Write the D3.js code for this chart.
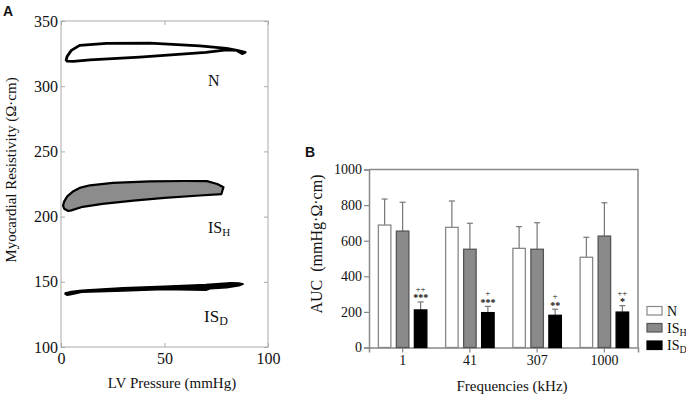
<!DOCTYPE html>
<html>
<head>
<meta charset="utf-8">
<script src="https://cdn.jsdelivr.net/npm/d3@7"></script>
<style>
  body { margin: 0; background: #fff; }
  text { font-family: "Liberation Serif", "Times New Roman", serif; fill: #111; }
</style>
</head>
<body>
<div id="chart"></div>
<script>
// panel A: pressure / resistivity loops, [LV pressure, resistivity]
const pressureTicks = [0, 50, 100];
const resistTicks = [100, 150, 200, 250, 300, 350];

const loopN = [[2.5, 320], [3, 323], [5, 327.5], [9, 331.3], [22, 332.8], [43, 333], [67, 331],
  [80, 329], [85, 327.5], [89, 326], [87.5, 325], [85, 327.4], [80, 327.9], [70, 326],
  [38, 322.3], [14, 320.2], [6, 319], [3, 319.2], [2.5, 320]];

const loopISH = [[3.5, 204.3], [1.5, 206], [1, 208.5], [1.5, 211.5], [3, 215.5], [6, 219.5], [9, 222],
  [14, 224], [25, 225.8], [43, 227], [60, 227.3], [70.5, 227.2], [75.5, 225], [78.5, 222.5],
  [78, 220], [77.5, 217.3], [67, 216.2], [50, 214.3], [35, 212.3], [20, 209.8], [10.5, 207.5], [5, 204.8]];

const loopISD = [[2, 141.5], [5, 142.5], [10, 143.6], [30, 145.5], [50, 146.6], [70, 148], [82, 149.3],
  [86, 149], [88, 148.3], [86, 147], [80, 145.5], [72, 144.6], [70, 143.5], [50, 144], [30, 143],
  [10, 142], [5, 140.3], [3, 139.6], [2, 140.5]];

// panel B: AUC per frequency
const freqs = ["1", "41", "307", "1000"];
const aucTicks = [0, 200, 400, 600, 800, 1000];
const meanN = [688, 675, 557, 507];
const sdN = [146, 148, 122, 112];
const meanISH = [654, 552, 552, 626];
const sdISH = [162, 146, 149, 187];
const meanISD = [211, 196, 181, 199];
const sdISD = [45, 35, 34, 36];
const plusMarks = ["++", "+", "+", "++"];
const starMarks = ["***", "***", "**", "*"];

const W = 686, H = 394;
const serif = "'Liberation Serif', 'Times New Roman', serif";
const svg = d3.select("#chart").append("svg")
  .attr("width", W).attr("height", H);
svg.append("rect").attr("width", W).attr("height", H).attr("fill", "#fff");

// ---------- panel A ----------
const xA = d3.scaleLinear().domain([0, 100]).range([61, 268]);
const yA = d3.scaleLinear().domain([100, 350]).range([347, 21]);

const gA = svg.append("g");
gA.append("rect")
  .attr("x", xA(0)).attr("y", yA(350))
  .attr("width", xA(100) - xA(0)).attr("height", yA(100) - yA(350))
  .attr("fill", "none").attr("stroke", "#aaa").attr("stroke-width", 1);

function styleAxis(g, col, size) {
  g.attr("font-family", serif).attr("font-size", size);
  g.select(".domain").remove();
  g.selectAll(".tick line").attr("stroke", col);
  g.selectAll(".tick text").attr("fill", "#111");
}

gA.append("g").attr("transform", `translate(0,${yA(100)})`)
  .call(d3.axisBottom(xA).tickValues(pressureTicks).tickSize(-4).tickPadding(6))
  .call(g => styleAxis(g, "#aaa", 16));
gA.append("g").attr("transform", `translate(${xA(0)},0)`)
  .call(d3.axisLeft(yA).tickValues(resistTicks).tickSize(-4).tickPadding(3))
  .call(g => styleAxis(g, "#aaa", 16));
gA.append("g").attr("transform", `translate(0,${yA(350)})`)
  .call(d3.axisTop(xA).tickValues(pressureTicks).tickSize(-4).tickFormat(""))
  .call(g => styleAxis(g, "#aaa", 16));
gA.append("g").attr("transform", `translate(${xA(100)},0)`)
  .call(d3.axisRight(yA).tickValues(resistTicks).tickSize(-4).tickFormat(""))
  .call(g => styleAxis(g, "#aaa", 16));

const lineA = d3.line().x(d => xA(d[0])).y(d => yA(d[1]));

gA.append("path").datum(loopN)
  .attr("d", lineA).attr("fill", "none")
  .attr("stroke", "#000").attr("stroke-width", 2.8)
  .attr("stroke-linejoin", "round").attr("stroke-linecap", "round");
gA.append("path").datum(loopISH)
  .attr("d", d => lineA(d) + "Z").attr("fill", "#8c8c8c")
  .attr("stroke", "#000").attr("stroke-width", 2.2).attr("stroke-linejoin", "round");
gA.append("path").datum(loopISD)
  .attr("d", d => lineA(d) + "Z").attr("fill", "#000")
  .attr("stroke", "#000").attr("stroke-width", 1.5).attr("stroke-linejoin", "round");

gA.append("text").attr("x", 208).attr("y", 86).style("font-size", "16px").text("N");
const tH = gA.append("text").attr("x", 208).attr("y", 233).style("font-size", "16px");
tH.append("tspan").text("IS");
tH.append("tspan").attr("dy", 3).style("font-size", "11px").text("H");
const tD = gA.append("text").attr("x", 204).attr("y", 322).style("font-size", "17px");
tD.append("tspan").text("IS");
tD.append("tspan").attr("dy", 3).style("font-size", "12px").text("D");

gA.append("text").attr("x", 172).attr("y", 388).attr("text-anchor", "middle")
  .style("font-size", "15px").text("LV Pressure (mmHg)");
gA.append("text").attr("transform", "translate(16,170) rotate(-90)").attr("text-anchor", "middle")
  .style("font-size", "15px").text("Myocardial Resistivity (\u03A9\u00B7cm)");

svg.append("text").attr("x", 3).attr("y", 16)
  .style("font-family", "'Liberation Sans', Arial, sans-serif")
  .style("font-weight", "bold").style("font-size", "14px").text("A");

// ---------- panel B ----------
const xB = d3.scaleBand().domain(freqs).range([369, 638]);
const yB = d3.scaleLinear().domain([0, 1000]).range([347.5, 169.5]);
const axisCol = "#888";

const gB = svg.append("g");
// frame top/right
gB.append("path")
  .attr("d", `M${xB.range()[0]},${yB(1000)}H${xB.range()[1]}V${yB(0)}`)
  .attr("fill", "none").attr("stroke", axisCol).attr("stroke-width", 1.5);

gB.append("g").attr("transform", `translate(0,${yB(0)})`)
  .call(d3.axisBottom(xB).tickSize(5).tickPadding(3))
  .attr("font-family", serif).attr("font-size", 14)
  .call(g => g.select(".domain").attr("stroke", axisCol).attr("stroke-width", 1.5))
  .call(g => g.selectAll(".tick line").attr("stroke", axisCol).attr("stroke-width", 1.2))
  .call(g => g.selectAll(".tick text").attr("fill", "#111"));
gB.append("g").attr("transform", `translate(${xB.range()[0]},0)`)
  .call(d3.axisLeft(yB).tickValues(aucTicks).tickFormat(d3.format("d")).tickSize(5).tickPadding(2))
  .attr("font-family", serif).attr("font-size", 14)
  .call(g => g.select(".domain").attr("stroke", axisCol).attr("stroke-width", 1.5))
  .call(g => g.selectAll(".tick line").attr("stroke", axisCol).attr("stroke-width", 1.2))
  .call(g => g.selectAll(".tick text").attr("fill", "#111"));

const series = [
  { key: "N", mean: meanN, sd: sdN, fill: "#fff", stroke: "#888", off: -18 },
  { key: "ISH", mean: meanISH, sd: sdISH, fill: "#8a8a8a", stroke: "#555", off: 0 },
  { key: "ISD", mean: meanISD, sd: sdISD, fill: "#000", stroke: "#000", off: 18 }
];
const barW = 12.5;

series.forEach(s => {
  const cx = (f) => xB(f) + xB.bandwidth() / 2 + s.off;
  const g = gB.append("g");
  // error bars (upper only)
  g.selectAll("line.err").data(freqs).join("line")
    .attr("x1", f => cx(f)).attr("x2", f => cx(f))
    .attr("y1", (f, i) => yB(s.mean[i])).attr("y2", (f, i) => yB(s.mean[i] + s.sd[i]))
    .attr("stroke", "#777").attr("stroke-width", 1.2);
  g.selectAll("line.cap").data(freqs).join("line")
    .attr("x1", f => cx(f) - 3).attr("x2", f => cx(f) + 3)
    .attr("y1", (f, i) => yB(s.mean[i] + s.sd[i])).attr("y2", (f, i) => yB(s.mean[i] + s.sd[i]))
    .attr("stroke", "#777").attr("stroke-width", 1.2);
  g.selectAll("rect").data(freqs).join("rect")
    .attr("x", f => cx(f) - barW / 2).attr("width", barW)
    .attr("y", (f, i) => yB(s.mean[i]))
    .attr("height", (f, i) => yB(0) - yB(s.mean[i]))
    .attr("fill", s.fill).attr("stroke", s.stroke).attr("stroke-width", 1.3);
});

// significance marks over IS_D: "+" line above "*" line
const isd = series[2];
const marks = gB.selectAll("text.sig").data(freqs).join("text")
  .attr("class", "sig")
  .attr("text-anchor", "middle").style("font-size", "9px")
  .attr("transform", (f, i) =>
    `translate(${xB(f) + xB.bandwidth() / 2 + isd.off},${yB(meanISD[i] + sdISD[i]) - 10})`);
marks.append("tspan").attr("x", 0).attr("y", 0).text((f, i) => plusMarks[i]);
marks.append("tspan").attr("x", 0).attr("y", 9.5).style("font-size", "10px")
  .style("font-weight", "bold").text((f, i) => starMarks[i]);

gB.append("text").attr("x", 512).attr("y", 391).attr("text-anchor", "middle")
  .style("font-size", "15px").text("Frequencies (kHz)");
gB.append("text").attr("transform", "translate(322,244) rotate(-90)").attr("text-anchor", "middle")
  .style("font-size", "16px").text("AUC\u00A0\u00A0(mmHg\u00B7\u03A9\u00B7cm)");

svg.append("text").attr("x", 305).attr("y", 157)
  .style("font-family", "'Liberation Sans', Arial, sans-serif")
  .style("font-weight", "bold").style("font-size", "14px").text("B");

// legend
const legend = [
  { label: "N", sub: "", s: series[0] },
  { label: "IS", sub: "H", s: series[1] },
  { label: "IS", sub: "D", s: series[2] }
];
const ly = [306.5, 323.5, 341];
legend.forEach((d, i) => {
  gB.append("rect").attr("x", 647).attr("y", ly[i]).attr("width", 15).attr("height", 8.5)
    .attr("fill", d.s.fill).attr("stroke", d.s.stroke).attr("stroke-width", 1.2);
  const t = gB.append("text").attr("x", 667).attr("y", ly[i] + 9).style("font-size", "14px");
  t.append("tspan").text(d.label);
  if (d.sub) t.append("tspan").attr("dy", 3).style("font-size", "10px").text(d.sub);
});
</script>
</body>
</html>
